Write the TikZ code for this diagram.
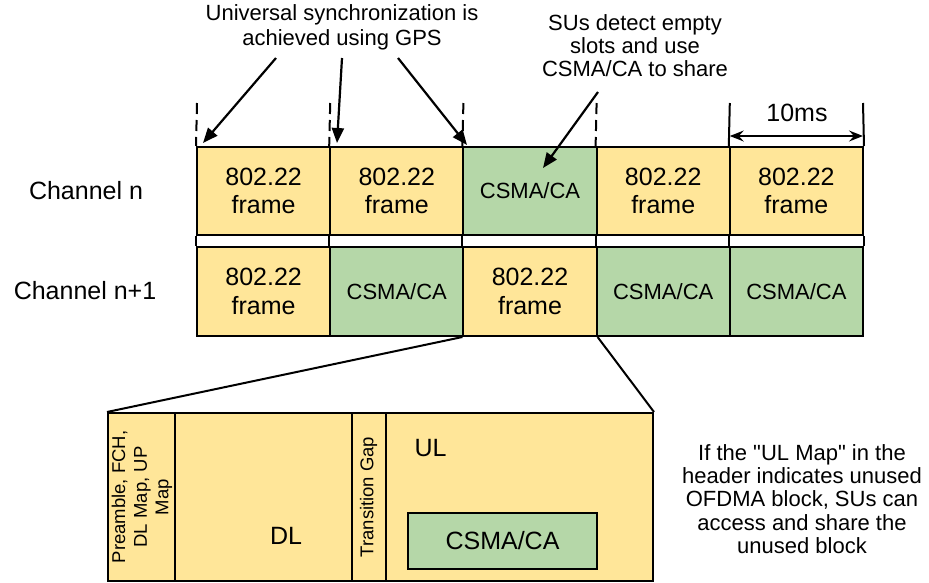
\documentclass[tikz,border=0pt]{standalone}
\usepackage{fontspec}
\setmainfont{Liberation Sans}[Ligatures=TeXOff]
\usetikzlibrary{arrows.meta}
\definecolor{fyel}{HTML}{FFE699}
\definecolor{fgrn}{HTML}{B5D7A8}
\begin{document}
\begin{tikzpicture}[x=1pt,y=-1pt,
  cell/.style={draw=black, line width=2pt, minimum width=133.2pt, minimum height=88pt, inner sep=0pt, align=center},
  frm/.style={cell, fill=fyel, font=\fontsize{25}{28.5}\selectfont},
  csma/.style={cell, fill=fgrn, font=\fontsize{22}{26}\selectfont},
  sub/.style={draw=black, line width=2pt, fill=fyel, minimum height=168pt, inner sep=0pt},
  lbl/.style={inner sep=0pt, align=center},
  big/.style={lbl, font=\fontsize{25}{28}\selectfont},
  note/.style={lbl, font=\fontsize{22}{23.3}\selectfont},
  small/.style={lbl, font=\fontsize{18.5}{21.7}\selectfont},
  grid/.style={line width=2pt},
  dsh/.style={line width=2pt, dash pattern=on 11pt off 6pt},
  garrow/.style={line width=2.2pt, -{Triangle[length=15pt,width=12pt]}},
  dim/.style={line width=1.5pt, {Stealth[length=14pt,width=11pt,inset=5pt]}-{Stealth[length=14pt,width=11pt,inset=5pt]}}
]
\useasboundingbox (0,0) rectangle (929,582);

% top row
\node[frm]  (t1) at (263.6,191) {802.22\\frame};
\node[frm]  (t2) at (396.8,191) {802.22\\frame};
\node[csma] (t3) at (530.0,191) {CSMA/CA};
\node[frm]  (t4) at (663.2,191) {802.22\\frame};
\node[frm]  (t5) at (796.4,191) {802.22\\frame};
% bottom row
\node[frm,  minimum height=89pt] (b1) at (263.6,291.5) {802.22\\frame};
\node[csma, minimum height=89pt] (b2) at (396.8,291.5) {CSMA/CA};
\node[frm,  minimum height=89pt] (b3) at (530.0,291.5) {802.22\\frame};
\node[csma, minimum height=89pt] (b4) at (663.2,291.5) {CSMA/CA};
\node[csma, minimum height=89pt] (b5) at (796.4,291.5) {CSMA/CA};

% lines through the gap between rows
\draw[grid] (t1.south west) -- (b1.north west);
\draw[grid] (t2.south west) -- (b2.north west);
\draw[grid] (t3.south west) -- (b3.north west);
\draw[grid] (t4.south west) -- (b4.north west);
\draw[grid] (t5.south west) -- (b5.north west);
\draw[grid] (t5.south east) -- (b5.north east);

% channel labels
\node[big] (chn)  at (86,190.5) {Channel n};
\node[big] (chn1) at (85,291) {Channel n+1};

% dashed sync marks
\coordinate (d1) at (197.0,103);
\coordinate (d2) at (330.2,103);
\coordinate (d3) at (463.4,103);
\coordinate (d4) at (596.6,103);
\draw[dsh] (d1) -- (t1.north west);
\draw[dsh] (d2) -- (t2.north west);
\draw[dsh] (d3) -- (t3.north west);
\draw[dsh] (d4) -- (t4.north west);

% 10ms dimension
\coordinate (m1) at (729.8,103);
\coordinate (m2) at (863.0,103);
\draw[grid] (m1) -- (t5.north west);
\draw[grid] (m2) -- (t5.north east);
\coordinate (a1) at (729.8,136);
\coordinate (a2) at (863.0,136);
\draw[dim] (a1) -- (a2);
\node[big] (tenms) at (797,113) {10ms};

% sync annotation
\node[note, font=\fontsize{22}{25}\selectfont, anchor=north] (sync) at (342,4) {Universal synchronization is\\achieved using GPS};
\coordinate (s1) at (276,58);
\coordinate (s2) at (342,58);
\coordinate (s3) at (398,58);
\coordinate (e1) at (203,143);
\coordinate (e2) at (337,143);
\coordinate (e3) at (467,145);
\draw[garrow] (s1) -- (e1);
\draw[garrow] (s2) -- (e2);
\draw[garrow] (s3) -- (e3);

% SU annotation
\node[note, anchor=north] (su) at (635,14) {SUs detect empty\\slots and use\\CSMA/CA to share};
\coordinate (u1) at (598,92);
\coordinate (u2) at (543,168);
\draw[garrow] (u1) -- (u2);

% expanded frame
\node[sub, minimum width=67pt]  (pre) at (141.5,497) {};
\node[sub, minimum width=177pt] (dl)  at (263.5,497) {};
\node[sub, minimum width=34pt]  (gap) at (369,497) {};
\node[sub, minimum width=267pt] (ul)  at (519.5,497) {};
\node[small, rotate=90] (preT) at (142,497) {Preamble, FCH,\\DL Map, UP\\Map};
\node[small, rotate=90] (gapT) at (368.5,497) {Transition Gap};
\node[big] (dlT) at (286,536) {DL};
\node[big] (ulT) at (430.5,448) {UL};
\node[draw=black, line width=2pt, fill=fgrn, minimum width=189pt, minimum height=56pt, inner sep=0pt, font=\fontsize{25}{28}\selectfont] (inner) at (502.5,541) {CSMA/CA};

% zoom lines
\draw[grid] (b3.south west) -- (pre.north west);
\draw[grid] (b3.south east) -- (ul.north east);

% right note
\node[note, anchor=north] (rn) at (802,444) {If the "UL Map" in the\\header indicates unused\\OFDMA block, SUs can\\access and share the\\unused block};
\end{tikzpicture}
\end{document}
